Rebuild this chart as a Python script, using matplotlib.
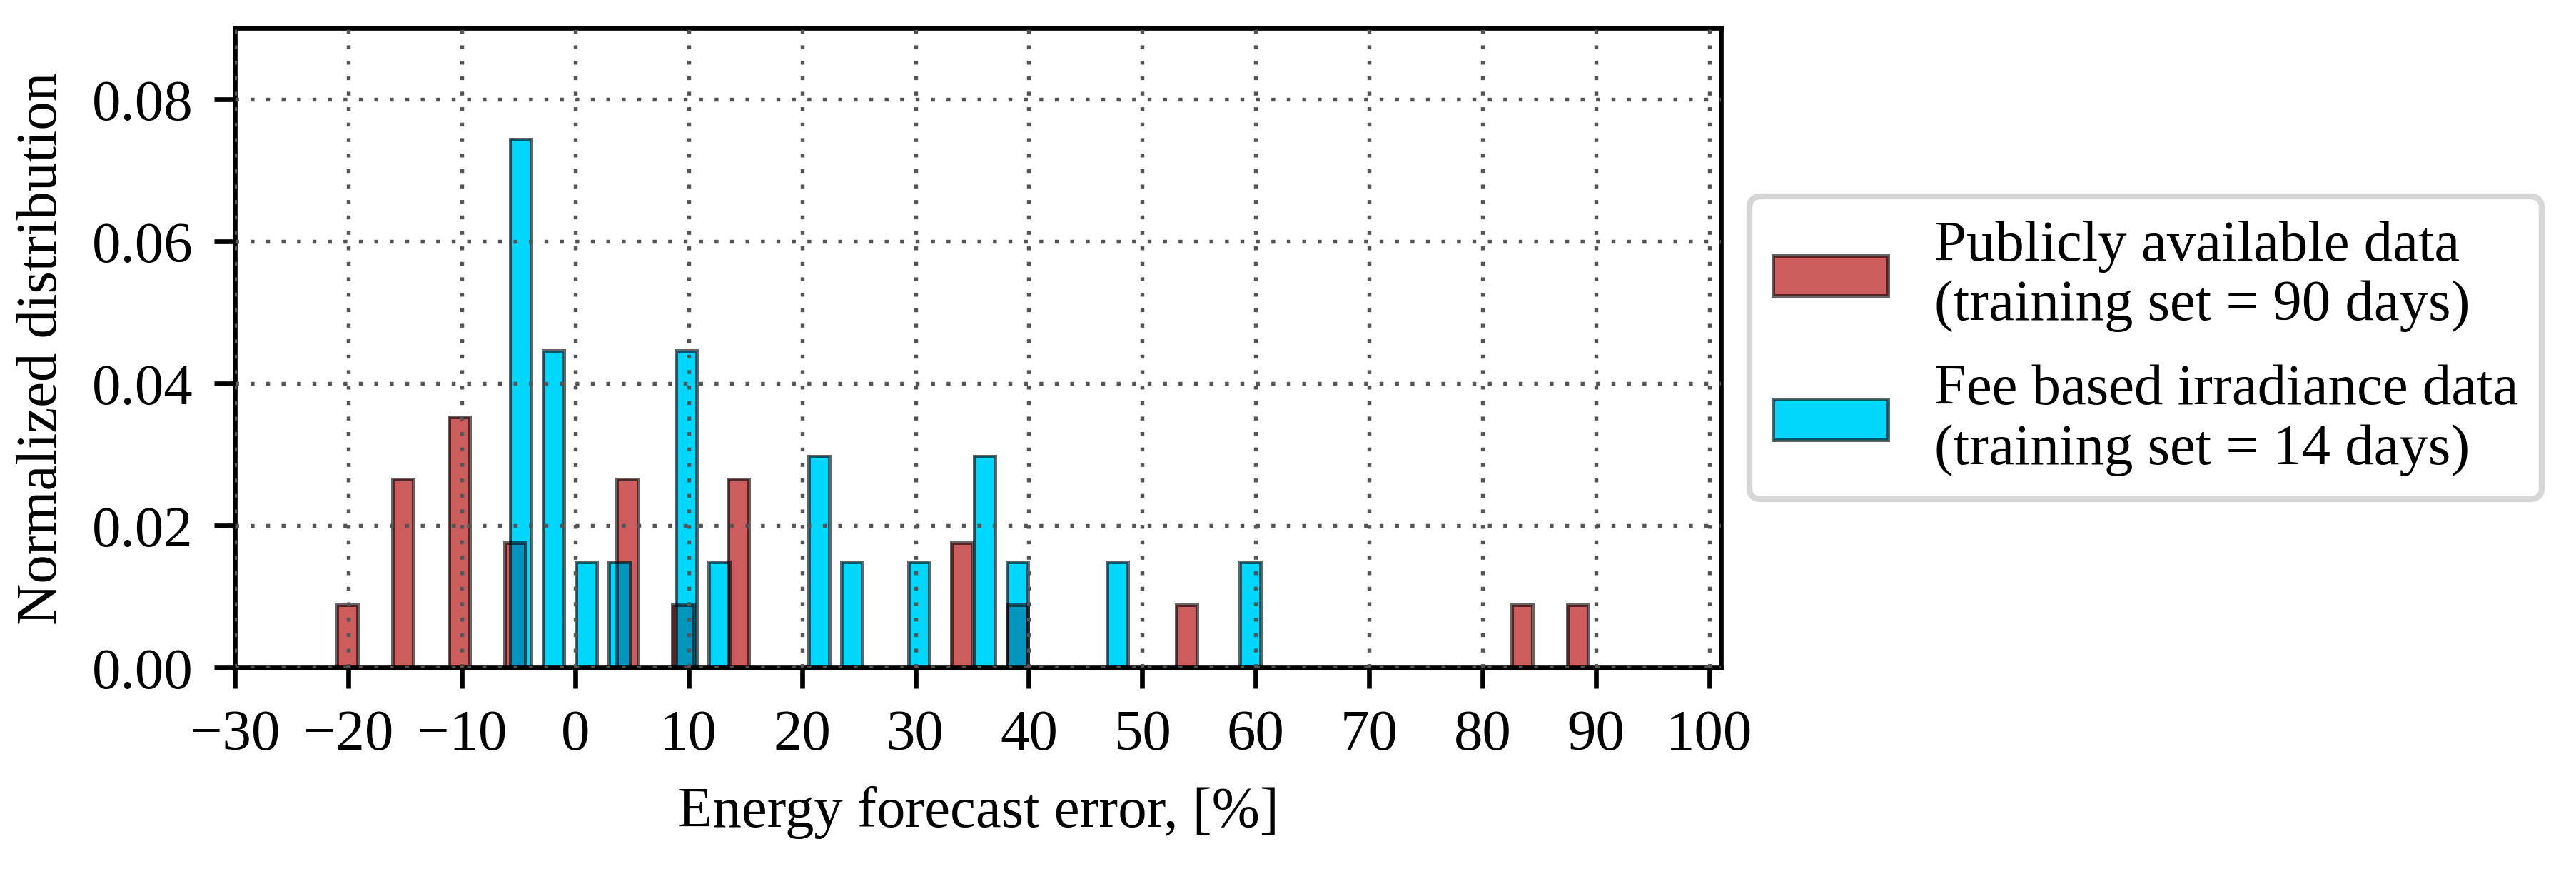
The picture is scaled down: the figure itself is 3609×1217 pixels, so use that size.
import matplotlib
matplotlib.use("Agg")
import matplotlib.pyplot as plt
import matplotlib.patches as mpatches

# ---- data ----
red_centers = [-20.1, -15.2, -10.2, -5.3, 4.6, 9.5, 14.4, 34.1, 39.0, 53.9, 83.5, 88.4]
red_heights = [0.0088, 0.0265, 0.0353, 0.0176, 0.0265, 0.0088, 0.0265, 0.0176,
               0.0088, 0.0088, 0.0088, 0.0088]
blue_centers = [-4.8, -1.9, 1.0, 3.9, 9.8, 12.7, 21.5, 24.4, 30.3, 36.1, 39.0, 47.8, 59.5]
blue_heights = [0.0743, 0.0446, 0.0149, 0.0149, 0.0446, 0.0149, 0.0297, 0.0149,
                0.0149, 0.0297, 0.0149, 0.0149, 0.0149]
series_labels = ["Publicly available data\n(training set = 90 days)",
                 "Fee based irradiance data\n(training set = 14 days)"]
x_ticks = list(range(-30, 101, 10))
y_ticks = [0.00, 0.02, 0.04, 0.06, 0.08]
x_label = "Energy forecast error, [%]"
y_label = "Normalized distribution"

# ---- style ----
plt.rcParams['font.family'] = ['Liberation Serif', 'DejaVu Serif']
FS = 9.7
RED = '#CD5C5C'
BLUE = '#00D7FF'
OVERLAP = '#0096BE'
EDGE = (0, 0, 0, 0.6)
LW = 0.6
BW = 1.85

fig = plt.figure(figsize=(3609 / 600, 1218 / 600), dpi=600)
ax = fig.add_axes([0.0912, 0.2315, 0.668 - 0.0912, 0.967 - 0.2315])

# faces
ax.bar(red_centers, red_heights, width=BW, color=RED, linewidth=0, zorder=1.0)
ax.bar(blue_centers, blue_heights, width=BW, color=BLUE, linewidth=0, zorder=1.2)

# overlapping parts (computed from the data)
for cr, hr in zip(red_centers, red_heights):
    for cb, hb in zip(blue_centers, blue_heights):
        left = max(cr - BW / 2, cb - BW / 2)
        right = min(cr + BW / 2, cb + BW / 2)
        if right > left:
            ax.bar(left, min(hr, hb), width=right - left, align='edge',
                   color=OVERLAP, linewidth=0, zorder=1.4)

# edges
ax.bar(red_centers, red_heights, width=BW, facecolor='none', edgecolor=EDGE,
       linewidth=LW, zorder=1.6)
ax.bar(blue_centers, blue_heights, width=BW, facecolor='none', edgecolor=EDGE,
       linewidth=LW, zorder=1.7)

ax.set_xlim(-30, 101)
ax.set_ylim(0, 0.09)
ax.set_xticks(x_ticks)
ax.set_yticks(y_ticks)
ax.set_yticklabels([f"{v:.2f}" for v in y_ticks])
ax.tick_params(labelsize=FS, width=0.8, length=3.5, pad=3.5)
for s in ax.spines.values():
    s.set_linewidth(0.8)

ax.set_axisbelow(False)
ax.grid(True, linestyle=(0, (1, 3)), linewidth=0.65, color='0.33')

ax.set_xlabel(x_label, fontsize=FS)
ax.set_ylabel(y_label, fontsize=FS)

handles = [mpatches.Patch(facecolor=RED, edgecolor=EDGE, linewidth=LW),
           mpatches.Patch(facecolor=BLUE, edgecolor=EDGE, linewidth=LW)]
ax.legend(handles, series_labels, loc='center left', bbox_to_anchor=(1, 0.5),
          fontsize=FS, frameon=True, labelspacing=0.55)

fig.savefig("out.png", dpi=600)
